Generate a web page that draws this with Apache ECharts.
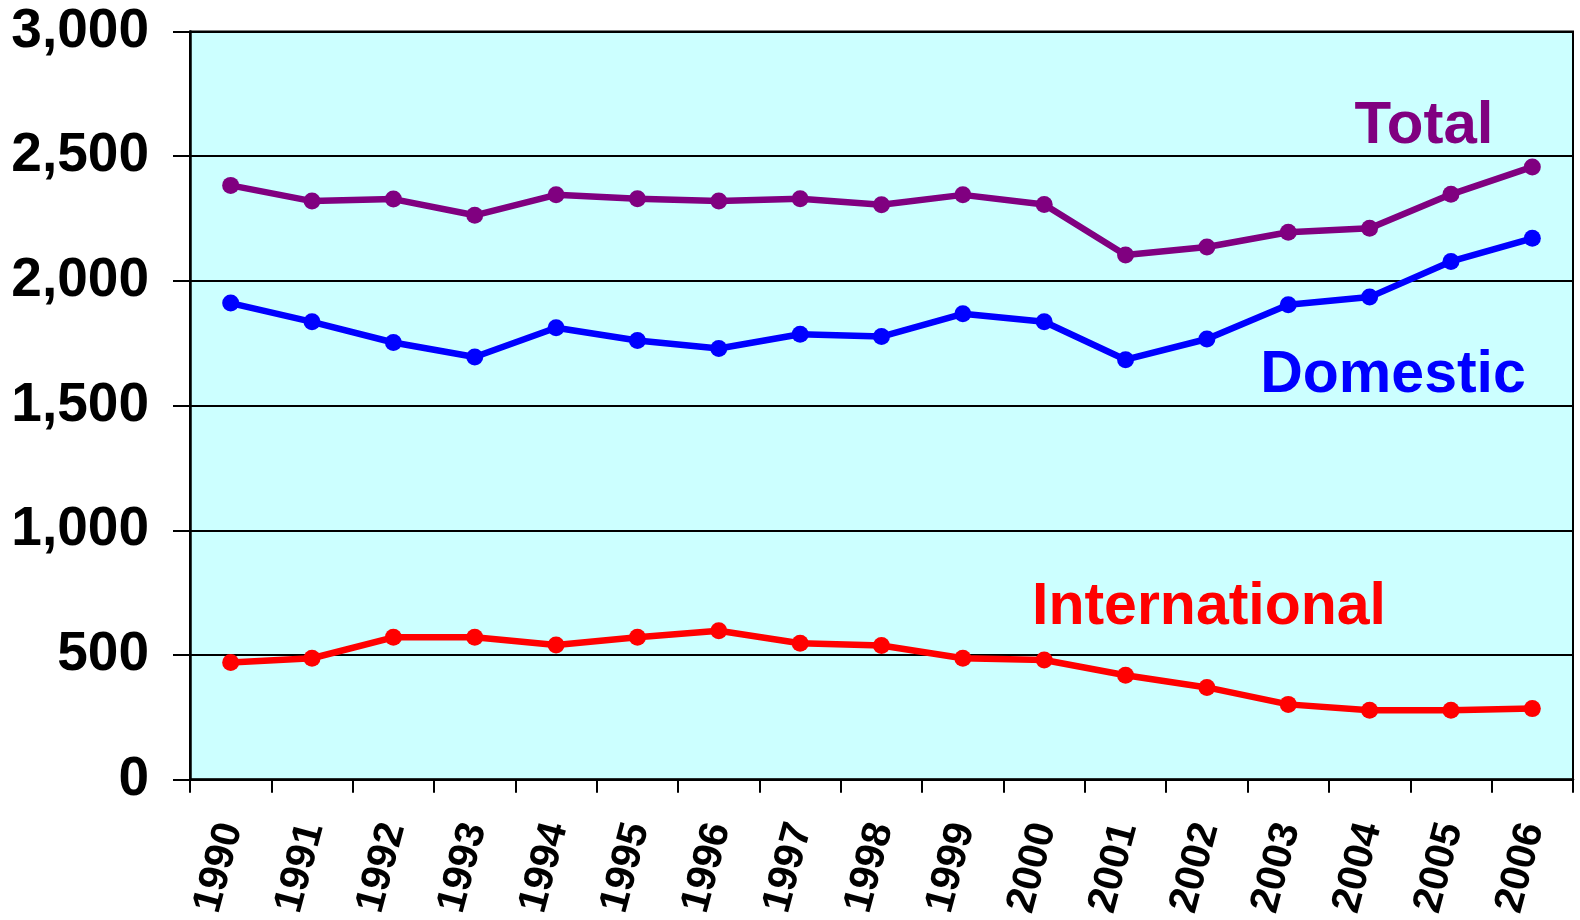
<!DOCTYPE html>
<html>
<head>
<meta charset="utf-8">
<script src="https://cdn.jsdelivr.net/npm/echarts@6/dist/echarts.min.js"></script>
<style>
  html, body { margin: 0; padding: 0; background: #fff; }
  #chart { width: 1580px; height: 920px; }
</style>
</head>
<body>
<div id="chart"></div>
<script>
// Passengers by year (thousands)
const years = ['1990','1991','1992','1993','1994','1995','1996','1997','1998',
               '1999','2000','2001','2002','2003','2004','2005','2006'];
const total = [2383, 2320, 2328, 2263, 2345, 2329, 2320, 2329, 2305, 2345, 2306,
               2104, 2136, 2195, 2211, 2347, 2457];
const domestic = [1911, 1836, 1753, 1695, 1812, 1761, 1729, 1786, 1777, 1868, 1836,
                  1684, 1767, 1904, 1935, 2078, 2171];
const international = [470, 487, 571, 571, 540, 571, 597, 547, 538, 487, 480,
                       419, 370, 302, 278, 278, 285];
const yTicks = { min: 0, max: 3000, interval: 500 };

const FONT = 'Liberation Sans, Arial, sans-serif';
const chart = echarts.init(document.getElementById('chart'));

function lineSeries(name, data, color) {
  return {
    name, type: 'line', data,
    symbol: 'circle', symbolSize: 17,
    lineStyle: { color, width: 6.5 },
    itemStyle: { color },
    animation: false
  };
}

chart.setOption({
  animation: false,
  grid: {
    left: 190, right: 7, top: 31.5, bottom: 140,
    show: true, backgroundColor: '#CCFFFF',
    borderColor: '#000', borderWidth: 2
  },
  xAxis: {
    type: 'category', data: years, boundaryGap: true,
    axisLine: { lineStyle: { color: '#000', width: 2.5 } },
    axisTick: { show: true, length: 13, lineStyle: { color: '#000', width: 2 } },
    axisLabel: {
      rotate: 75, margin: 44, interval: 0,
      color: '#000', fontFamily: FONT, fontWeight: 'bold', fontSize: 41
    },
    splitLine: { show: false }
  },
  yAxis: {
    type: 'value', min: yTicks.min, max: yTicks.max, interval: yTicks.interval,
    axisLine: { show: true, lineStyle: { color: '#000', width: 2.5 } },
    axisTick: { show: true, length: 17, lineStyle: { color: '#000', width: 2 } },
    axisLabel: {
      margin: 41, color: '#000', fontFamily: FONT, fontWeight: 'bold', fontSize: 55,
      formatter: v => v.toLocaleString('en-US')
    },
    splitLine: { show: true, lineStyle: { color: '#000', width: 2 } }
  },
  series: [
    lineSeries('Total', total, '#800080'),
    lineSeries('Domestic', domestic, '#0000FF'),
    lineSeries('International', international, '#FF0000')
  ],
  graphic: [
    { type: 'text', x: 1424, y: 126, z: 10,
      style: { text: 'Total', fill: '#800080', font: 'bold 60px ' + FONT,
               align: 'center', verticalAlign: 'middle' } },
    { type: 'text', x: 1393, y: 376, z: 10,
      style: { text: 'Domestic', fill: '#0000FF', font: 'bold 59px ' + FONT,
               align: 'center', verticalAlign: 'middle' } },
    { type: 'text', x: 1209, y: 608, z: 10,
      style: { text: 'International', fill: '#FF0000', font: 'bold 59px ' + FONT,
               align: 'center', verticalAlign: 'middle' } }
  ]
});
</script>
</body>
</html>
